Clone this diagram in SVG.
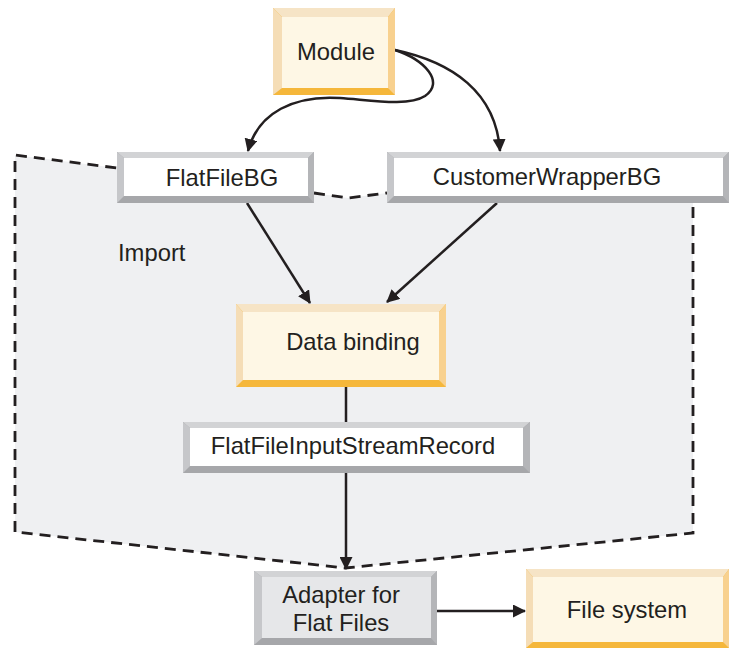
<svg xmlns="http://www.w3.org/2000/svg" width="730" height="648" viewBox="0 0 730 648">
<defs>
<style>
.t{font-family:"Liberation Sans",Arial,sans-serif;font-size:23.8px;fill:#231f20;text-anchor:middle}
.ln{fill:none;stroke:#231f20;stroke-width:2.5}
.dash{fill:none;stroke:#231f20;stroke-width:2.8;stroke-dasharray:11,7}
.oT{fill:#f6e4c6}.oL{fill:#f5ddb6}.oR{fill:#f8d18f}.oB{fill:#f5b73b}.oF{fill:#fef7e5}
.gT{fill:#d2d3d5}.gL{fill:#c6c7ca}.gR{fill:#b4b5b8}.gB{fill:#a6a7aa}.gF{fill:#ffffff}.gF2{fill:#e6e7e9}
</style>
<marker id="ah" viewBox="0 0 13 13" refX="12" refY="6.5" markerWidth="13" markerHeight="13" markerUnits="userSpaceOnUse" orient="auto">
<path d="M0,0 L13,6.5 L0,13 Z" fill="#231f20"/>
</marker>
</defs>

<g id="import">
<polygon points="15,155 117,168 314,193 348,198 387,193 693,200 693,533 345,568 15,532" fill="#eff0f2"/>
<path class="dash" d="M15,532 L15,155 L117,168"/>
<path class="dash" d="M314,193 L348,198 L387,193"/>
<path class="dash" d="M693,207 L693,533 L345,568 L15,532"/>
<text class="t" x="118" y="261" style="text-anchor:start">Import</text>
</g>

<g id="connectors">
<path class="ln" d="M395,50 C425,60 445,82 425,96 C408,107 370,100 340,98 C295,95 258,112 248,151" marker-end="url(#ah)"/>
<path class="ln" d="M395,50 C452,62 496,92 500,151" marker-end="url(#ah)"/>
<path class="ln" d="M247,203 L310,303" marker-end="url(#ah)"/>
<path class="ln" d="M497,203 L387,302" marker-end="url(#ah)"/>
<path class="ln" d="M346,387 L346,422"/>
<path class="ln" d="M346,473 L346,569" marker-end="url(#ah)"/>
<path class="ln" d="M437,611 L525,611" marker-end="url(#ah)"/>
</g>

<g id="module">
<rect class="oB" x="273" y="8" width="122" height="87"/>
<polygon class="oT" points="273,8 395,8 388,17 282,17"/>
<polygon class="oL" points="273,8 282,17 282,88 273,95"/>
<polygon class="oR" points="395,8 395,95 388,88 388,17"/>
<rect class="oF" x="282" y="17" width="106" height="71"/>
<text class="t" x="336" y="60">Module</text>
</g>

<g id="flatfilebg">
<rect class="gB" x="117" y="152" width="197" height="51"/>
<polygon class="gT" points="117,152 314,152 308,158 124,158"/>
<polygon class="gL" points="117,152 124,158 124,196 117,203"/>
<polygon class="gR" points="314,152 314,203 308,196 308,158"/>
<rect class="gF" x="124" y="158" width="184" height="38"/>
<text class="t" x="222" y="186">FlatFileBG</text>
</g>

<g id="customerwrapperbg">
<rect class="gB" x="387" y="152" width="342" height="51"/>
<polygon class="gT" points="387,152 729,152 723,158 394,158"/>
<polygon class="gL" points="387,152 394,158 394,196 387,203"/>
<polygon class="gR" points="729,152 729,203 723,196 723,158"/>
<rect class="gF" x="394" y="158" width="329" height="38"/>
<text class="t" x="547" y="185">CustomerWrapperBG</text>
</g>

<g id="databinding">
<rect class="oB" x="236" y="304" width="210" height="83"/>
<polygon class="oT" points="236,304 446,304 439,312 243,312"/>
<polygon class="oL" points="236,304 243,312 243,380 236,387"/>
<polygon class="oR" points="446,304 446,387 439,380 439,312"/>
<rect class="oF" x="243" y="312" width="196" height="68"/>
<text class="t" x="353" y="350">Data binding</text>
</g>

<g id="flatfileinputstreamrecord">
<rect class="gB" x="183" y="422" width="347" height="51"/>
<polygon class="gT" points="183,422 530,422 523,428 190,428"/>
<polygon class="gL" points="183,422 190,428 190,466 183,473"/>
<polygon class="gR" points="530,422 530,473 523,466 523,428"/>
<rect class="gF" x="190" y="428" width="333" height="38"/>
<text class="t" x="353" y="454">FlatFileInputStreamRecord</text>
</g>

<g id="adapter">
<rect class="gB" x="254" y="571" width="183" height="74"/>
<polygon class="gT" points="254,571 437,571 431,577 262,577"/>
<polygon class="gL" points="254,571 262,577 262,638 254,645"/>
<polygon class="gR" points="437,571 437,645 431,638 431,577"/>
<rect class="gF2" x="262" y="577" width="169" height="61"/>
<text class="t" x="341" y="603">Adapter for</text>
<text class="t" x="341" y="631">Flat Files</text>
</g>

<g id="filesystem">
<rect class="oB" x="526" y="569" width="203" height="79"/>
<polygon class="oT" points="526,569 729,569 723,577 533,577"/>
<polygon class="oL" points="526,569 533,577 533,642 526,648"/>
<polygon class="oR" points="729,569 729,648 723,642 723,577"/>
<rect class="oF" x="533" y="577" width="190" height="65"/>
<text class="t" x="627" y="618">File system</text>
</g>
</svg>
